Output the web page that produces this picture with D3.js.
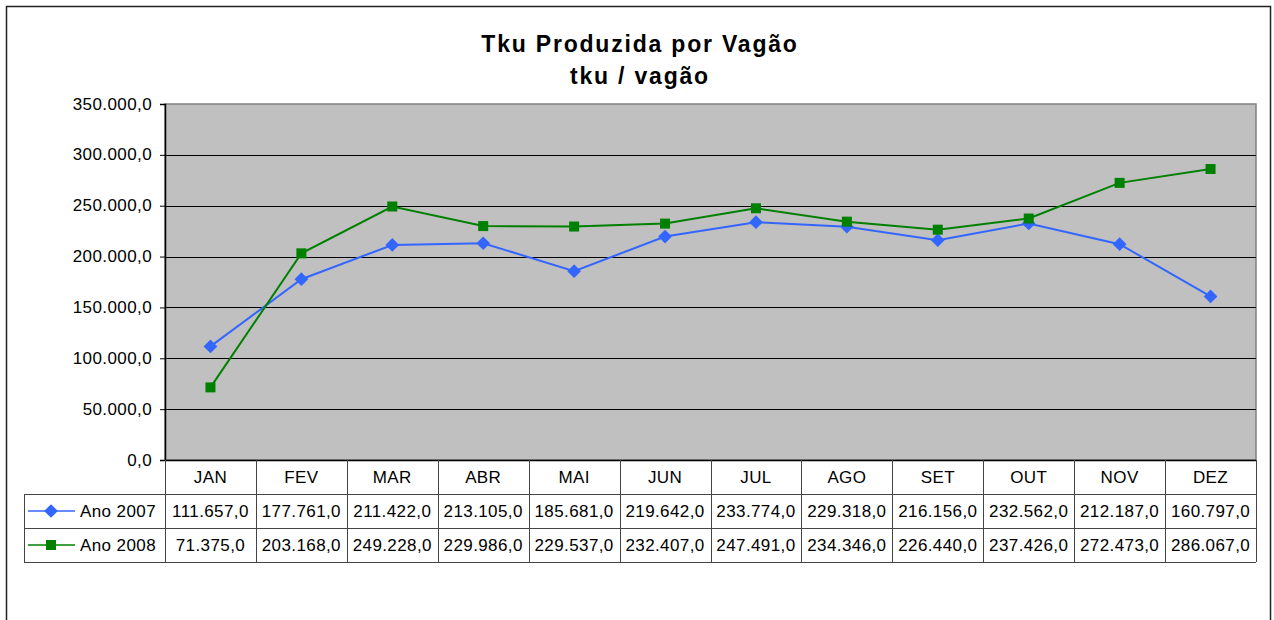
<!DOCTYPE html>
<html>
<head>
<meta charset="utf-8">
<script src="https://cdn.jsdelivr.net/npm/d3@7"></script>
<style>
  body { margin: 0; background: #fff; }
  text { font-family: "Liberation Sans", Arial, Helvetica, sans-serif; fill: #000; }
</style>
</head>
<body>
<script>
var months = ['JAN', 'FEV', 'MAR', 'ABR', 'MAI', 'JUN', 'JUL', 'AGO', 'SET', 'OUT', 'NOV', 'DEZ'];
var ano2007 = [111657, 177761, 211422, 213105, 185681, 219642, 233774, 229318, 216156, 232562, 212187, 160797];
var ano2008 = [71375, 203168, 249228, 229986, 229537, 232407, 247491, 234346, 226440, 237426, 272473, 286067];
var yTicks = [0, 50000, 100000, 150000, 200000, 250000, 300000, 350000];

var series = [
  { name: 'Ano 2007', values: ano2007, color: '#3366ff', marker: 'diamond' },
  { name: 'Ano 2008', values: ano2008, color: '#008000', marker: 'square' }
];

var width = 1274, height = 620;
// note: "top" is taken by window.top, so plot edges get their own names
var plotLeft = 165, plotRight = 1256, plotTop = 104, plotBottom = 460;
var rowH = 34, legendLeft = 24;

// numbers like 111.657,0
var ptBR = d3.formatLocale({ decimal: ',', thousands: '.', grouping: [3], currency: ['R$', ''] });
var fmt = ptBR.format(',.1f');

var svg = d3.select('body').append('svg')
  .attr('width', width)
  .attr('height', height);

// outer frame
svg.append('rect')
  .attr('x', 6.5).attr('y', 6.5)
  .attr('width', 1264).attr('height', 700)
  .attr('fill', 'none').attr('stroke', '#222').attr('stroke-width', 1.5);

// title
var title = svg.append('text')
  .attr('text-anchor', 'middle')
  .style('font-size', '23px').style('font-weight', 'bold').style('letter-spacing', '1.8px');
title.append('tspan').attr('x', 640).attr('y', 52).text('Tku Produzida por Vagão');
title.append('tspan').attr('x', 640).attr('y', 84).text('tku / vagão');

var x = d3.scaleBand().domain(months).range([plotLeft, plotRight]);
var y = d3.scaleLinear().domain([0, 350000]).range([plotBottom, plotTop]);

// plot background
svg.append('rect')
  .attr('x', plotLeft).attr('y', plotTop)
  .attr('width', plotRight - plotLeft).attr('height', plotBottom - plotTop)
  .attr('fill', '#c0c0c0').attr('stroke', '#808080').attr('stroke-width', 1.5);

// gridlines
svg.append('g').selectAll('line')
  .data(yTicks.filter(function(d){ return d > 0 && d < 350000; }))
  .enter().append('line')
    .attr('x1', plotLeft).attr('x2', plotRight)
    .attr('y1', function(d){ return Math.round(y(d)) + 0.5; })
    .attr('y2', function(d){ return Math.round(y(d)) + 0.5; })
    .attr('stroke', '#000').attr('stroke-width', 1);

// y axis
var yAxis = svg.append('g')
  .attr('transform', 'translate(' + plotLeft + ',0)')
  .call(d3.axisLeft(y).tickValues(yTicks).tickFormat(fmt).tickSize(5).tickPadding(8));
yAxis.select('.domain').attr('stroke', '#000').attr('stroke-width', 1.5);
yAxis.selectAll('.tick line').attr('stroke', '#000');
yAxis.selectAll('.tick text')
  .style('font-size', '17px').style('letter-spacing', '0.4px')
  .attr('font-family', null).attr('fill', '#000').attr('dy', '0.3em');

// data table
var table = svg.append('g');
var tableBottom = plotBottom + rowH * 3;
var gridColor = '#444';

// horizontal lines
[plotBottom, plotBottom + rowH, plotBottom + rowH * 2, tableBottom].forEach(function(yy, i){
  table.append('line')
    .attr('x1', i === 0 ? plotLeft : legendLeft).attr('x2', plotRight)
    .attr('y1', yy + 0.5).attr('y2', yy + 0.5)
    .attr('stroke', i === 0 ? '#000' : gridColor).attr('stroke-width', i === 0 ? 1.5 : 1);
});
// vertical lines
table.selectAll('line.v')
  .data(months.concat(['end']))
  .enter().append('line')
    .attr('class', 'v')
    .attr('x1', function(d){ return Math.round(d === 'end' ? plotRight : x(d)) + 0.5; })
    .attr('x2', function(d){ return Math.round(d === 'end' ? plotRight : x(d)) + 0.5; })
    .attr('y1', plotBottom).attr('y2', tableBottom)
    .attr('stroke', gridColor);
table.append('line')
  .attr('x1', legendLeft + 0.5).attr('x2', legendLeft + 0.5)
  .attr('y1', plotBottom + rowH).attr('y2', tableBottom)
  .attr('stroke', gridColor);

// month headers
table.selectAll('text.m')
  .data(months)
  .enter().append('text')
    .attr('class', 'm')
    .attr('x', function(d){ return x(d) + x.bandwidth() / 2; })
    .attr('y', plotBottom + 23)
    .attr('text-anchor', 'middle')
    .style('font-size', '17px').style('letter-spacing', '0.4px')
    .text(function(d){ return d; });

function markerPath(type) {
  return type === 'diamond'
    ? d3.symbol().type(d3.symbolDiamond2).size(120)()
    : d3.symbol().type(d3.symbolSquare).size(100)();
}

series.forEach(function(s, si){
  var rowY = plotBottom + rowH * (si + 1);
  // legend key
  table.append('line')
    .attr('x1', 28).attr('x2', 75)
    .attr('y1', rowY + 17).attr('y2', rowY + 17)
    .attr('stroke', s.color).attr('stroke-width', 1.5);
  table.append('path')
    .attr('d', markerPath(s.marker))
    .attr('transform', 'translate(51,' + (rowY + 17) + ')')
    .attr('fill', s.color);
  table.append('text')
    .attr('x', 80).attr('y', rowY + 23)
    .style('font-size', '17px').style('letter-spacing', '0.4px')
    .text(s.name);
  // values
  table.selectAll('text.v' + si)
    .data(s.values)
    .enter().append('text')
      .attr('class', 'v' + si)
      .attr('x', function(d, i){ return x(months[i]) + x.bandwidth() / 2; })
      .attr('y', rowY + 23)
      .attr('text-anchor', 'middle')
      .style('font-size', '17px').style('letter-spacing', '0.4px')
      .text(function(d){ return fmt(d); });

  // line + markers on the plot
  var line = d3.line()
    .x(function(d, i){ return x(months[i]) + x.bandwidth() / 2; })
    .y(function(d){ return y(d); });
  svg.append('path')
    .datum(s.values)
    .attr('d', line)
    .attr('fill', 'none')
    .attr('stroke', s.color).attr('stroke-width', 2);
  svg.append('g').selectAll('path')
    .data(s.values)
    .enter().append('path')
      .attr('d', markerPath(s.marker))
      .attr('transform', function(d, i){
        return 'translate(' + (x(months[i]) + x.bandwidth() / 2) + ',' + y(d) + ')';
      })
      .attr('fill', s.color);
});
</script>
</body>
</html>
